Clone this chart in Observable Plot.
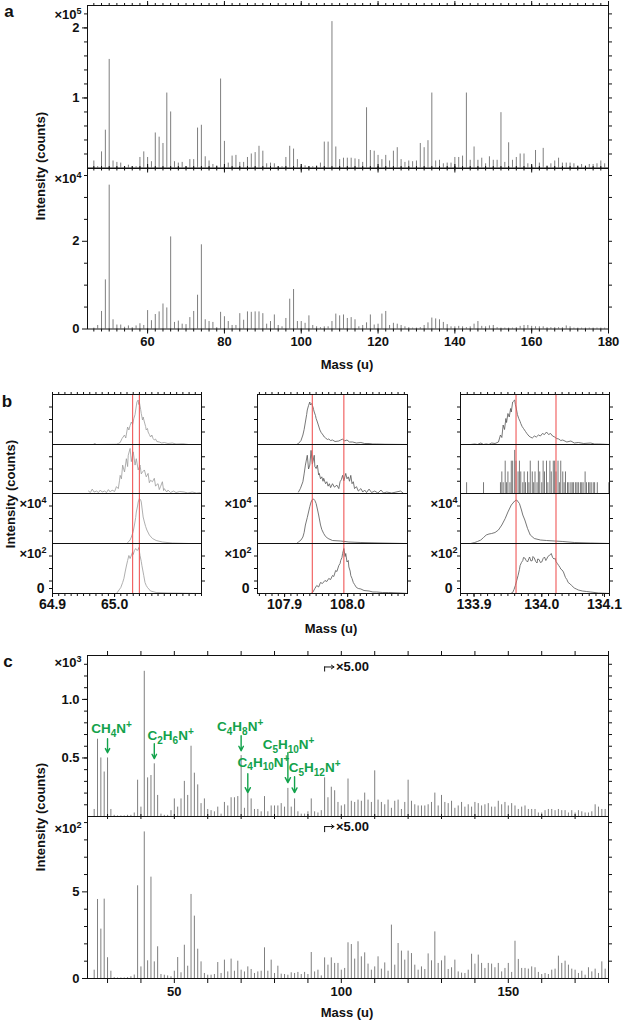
<!DOCTYPE html>
<html><head><meta charset="utf-8">
<script src="https://cdn.jsdelivr.net/npm/d3@7"></script>
<script src="https://cdn.jsdelivr.net/npm/@observablehq/plot@0.6"></script>
<style>
body{margin:0;background:#fff;}
#root{position:relative;width:625px;height:1021px;overflow:hidden;font-family:"Liberation Sans",Arial,Helvetica,sans-serif;font-weight:bold;color:#111;}
.t{position:absolute;white-space:nowrap;font-size:13px;line-height:1;}
.t sup{font-size:9px;vertical-align:5px;line-height:0;}
.c{transform:translate(-50%,-50%);}
.r{transform:translate(-50%,-50%) rotate(-90deg);}
.p{font-size:17px;}
</style></head><body><div id="root"></div>
<script>
// ---------------- DATA ----------------
// Panel a: unit masses 46..179 u
const massA = d3.range(46, 180);
const aTop = [ // ×10^5 counts
 0.1,0.02,0.23,0.54,1.55,0.1,0.08,0.07,0.02,0.04,
 0.02,0.02,0.15,0.23,0.15,0.09,0.5,0.44,0.35,1.07,
 0.8,0.09,0.07,0.08,0.02,0.12,0.12,0.57,0.61,0.16,
 0.1,0.05,0.03,1.27,0.38,0.07,0.17,0.18,0.08,0.08,
 0.15,0.2,0.22,0.31,0.24,0.06,0.07,0.06,0.02,0.02,
 0.15,0.31,0.27,0.12,0.05,0.03,0.02,0.02,0.03,0.07,
 0.37,0.37,2.09,0.3,0.12,0.14,0.14,0.14,0.13,0.12,
 0.08,0.86,0.25,0.24,0.18,0.12,0.18,0.1,0.24,0.29,
 0.12,0.08,0.1,0.09,0.1,0.35,0.29,0.39,1.07,0.1,
 0.11,0.06,0.07,0.07,0.15,0.15,0.17,1.07,0.11,0.3,
 0.11,0.14,0.06,0.16,0.11,0.11,0.79,0.08,0.36,0.11,
 0.15,0.2,0.2,0.06,0.04,0.25,0.07,0.28,0.03,0.06,
 0.1,0.14,0.07,0.07,0.07,0.06,0.03,0.05,0.03,0.05,
 0.05,0.06,0.1,0.06];
const aBot = [ // ×10^4 counts
 0.02,0.08,0.4,1.12,3.28,0.21,0.09,0.09,0.04,0.07,
 0.03,0.07,0.12,0.08,0.42,0.19,0.33,0.39,0.57,0.48,
 2.1,0.15,0.18,0.11,0.1,0.26,0.4,0.77,1.92,0.21,
 0.17,0.15,0.03,0.38,0.28,0.17,0.08,0.08,0.35,0.2,
 0.39,0.38,0.39,0.39,0.35,0.11,0.17,0.32,0.08,0.05,
 0.24,0.68,0.9,0.17,0.17,0.13,0.3,0.08,0.05,0.03,
 0.05,0.05,0.17,0.34,0.3,0.32,0.24,0.26,0.21,0.05,
 0.08,0.14,0.32,0.09,0.11,0.34,0.4,0.08,0.13,0.11,
 0.08,0.05,0.03,0.02,0.02,0.03,0.08,0.14,0.25,0.23,
 0.21,0.15,0.1,0.05,0.05,0.06,0.05,0.03,0.05,0.11,
 0.17,0.06,0.05,0.07,0.08,0.03,0.02,0.02,0.02,0.02,
 0.03,0.06,0.08,0.08,0.06,0.05,0.05,0.05,0.03,0.03,
 0.03,0.03,0.03,0.07,0.05,0.02,0.02,0.02,0.02,0.02,
 0.02,0.02,0.02,0.02];

// Panel c: unit masses 26..179 u
const massC = d3.range(26, 180);
const cTop = [ // ×10^3 counts (×5.00 above 95 u)
 0.06,0.66,0.5,0.38,0.5,0.06,0.01,0.005,0.005,0.005,
 0.01,0.01,0.03,0.31,0.08,1.24,0.33,0.35,0.45,0.18,
 0.02,0.01,0.01,0.05,0.15,0.08,0.15,0.3,0.18,0.6,
 0.37,0.27,0.11,0.15,0.06,0.05,0.04,0.08,0.02,0.12,
 0.09,0.16,0.16,0.17,0.52,0.07,0.2,0.15,0.06,0.06,
 0.04,0.17,0.04,0.09,0.09,0.09,0.11,0.08,0.24,0.08,
 0.15,0.04,0.02,0.02,0.04,0.15,0.04,0.03,0.05,0.33,
 0.16,0.25,0.22,0.12,0.09,0.1,0.32,0.13,0.12,0.14,
 0.13,0.2,0.14,0.12,0.39,0.14,0.12,0.1,0.14,0.07,
 0.13,0.14,0.06,0.12,0.31,0.13,0.1,0.09,0.09,0.09,
 0.1,0.12,0.2,0.09,0.18,0.12,0.11,0.13,0.07,0.09,
 0.12,0.08,0.1,0.08,0.12,0.11,0.09,0.1,0.11,0.08,
 0.08,0.13,0.1,0.12,0.09,0.11,0.09,0.06,0.08,0.09,
 0.06,0.06,0.06,0.03,0.03,0.05,0.06,0.06,0.05,0.06,
 0.05,0.05,0.03,0.05,0.03,0.05,0.04,0.03,0.03,0.04,
 0.1,0.08,0.06,0.06];
const cBot = [ // ×10^2 counts (×5.00 above 95 u)
 0.48,4.56,2.85,4.58,1.2,0.42,0.05,0.03,0.03,0.03,
 0.05,0.1,0.2,5.35,0.67,8.46,1.02,5.85,0.96,1.83,
 0.23,0.19,0.15,0.1,0.42,1.21,0.33,1.92,0.71,4.85,
 3.6,1.69,0.96,0.29,0.19,0.19,0.23,0.92,0.29,1.06,
 0.38,1.12,0.42,1.0,0.48,0.38,0.67,0.52,0.29,0.38,
 0.42,1.77,0.42,1.06,0.29,0.71,0.25,0.23,0.19,0.33,
 0.29,0.35,0.23,0.35,0.23,1.5,0.38,0.48,0.15,1.19,
 0.77,1.19,0.87,0.87,0.48,0.58,2.06,1.96,1.12,2.12,
 1.25,1.48,0.83,0.48,0.67,1.25,0.54,0.9,0.42,3.08,
 0.77,2.02,1.58,1.06,1.58,1.44,0.77,0.48,0.67,0.52,
 1.42,1.02,2.69,0.87,1.02,1.29,0.52,0.62,1.06,0.38,
 0.31,0.29,0.48,1.4,0.83,1.35,0.87,0.58,0.87,0.83,
 0.62,0.87,0.38,0.58,0.87,0.35,2.15,1.1,0.58,0.58,
 0.54,0.67,0.62,0.35,0.23,0.29,0.23,0.48,0.54,1.29,
 0.87,1.0,0.77,0.54,0.48,0.29,0.42,0.19,0.62,0.38,
 0.54,0.29,0.96,0.54];

// Panel c annotations
const formulaText = ["CH4N+","C2H6N+","C4H8N+","C5H10N+","C4H10N+","C5H12N+"];
const formulaTextMass = [31.2, 48.9, 69.7, 84.2, 76.7, 92.0];
const formulaTextY = [0.749, 0.689, 0.766, 0.613, 0.46, 0.417];
const formulaPeakMass = [30, 44, 70, 84, 72, 86];
const formulaArrowFrom = [0.664, 0.621, 0.689, 0.545, 0.366, 0.34];
const formulaArrowTo = [0.545, 0.494, 0.562, 0.289, 0.204, 0.204];
const scaleMarkMass = [95, 97.8, 98.4];         // stub, arrow tip, text start
const scaleMarkTopY = [1.234, 1.277];            // stub bottom, arrow level
const scaleMarkBotY = [8.42, 8.77];

// Panel b: high-resolution peak profiles, normalised to each row (4 rows × 3 windows)
const bDomains = [[64.9, 65.14], [107.857, 108.095], [133.88, 134.1]];
const bMajor = [[64.9, 65.0], [107.9, 108.0], [133.9, 134.0]];
const bEdgeLabel = [[], [], [134.1]];
const bRed = [[65.029, 65.040], [107.944, 107.994], [133.962, 134.021]];
const b1r1 = [[64.9,0],[64.945,0],[64.966,0],[64.968,0.03],[64.970,0],[65.003,0.005],[65.006,0.02],[65.009,0.04],[65.012,0.12],[65.016,0.19],[65.018,0.13],[65.021,0.35],[65.023,0.29],[65.025,0.38],[65.027,0.45],[65.029,0.4],[65.031,0.52],[65.033,0.6],[65.034,0.69],[65.036,0.85],[65.038,0.89],[65.039,0.8],[65.040,0.84],[65.042,0.7],[65.043,0.62],[65.045,0.49],[65.046,0.55],[65.048,0.45],[65.050,0.36],[65.051,0.29],[65.053,0.32],[65.054,0.25],[65.056,0.2],[65.058,0.15],[65.060,0.19],[65.062,0.12],[65.064,0.09],[65.066,0.11],[65.068,0.06],[65.072,0.05],[65.076,0.03],[65.080,0.04],[65.086,0.02],[65.093,0.03],[65.099,0.01],[65.110,0.015],[65.119,0],[65.14,0]];
const b1r2 = [[64.958,0.05],[64.961,0.02],[64.964,0.09],[64.967,0.03],[64.971,0.05],[64.974,0.02],[64.977,0.07],[64.980,0.03],[64.984,0.05],[64.987,0.02],[64.990,0.08],[64.993,0.03],[64.996,0.07],[65.000,0.04],[65.003,0.14],[65.006,0.1],[65.008,0.27],[65.009,0.37],[65.011,0.3],[65.013,0.58],[65.016,0.44],[65.019,0.71],[65.021,0.55],[65.022,0.78],[65.025,0.92],[65.027,0.65],[65.030,0.85],[65.033,0.58],[65.035,0.71],[65.038,0.48],[65.041,0.58],[65.043,0.4],[65.045,0.44],[65.048,0.48],[65.051,0.34],[65.054,0.41],[65.056,0.22],[65.058,0.27],[65.061,0.24],[65.064,0.31],[65.066,0.15],[65.067,0.17],[65.070,0.2],[65.072,0.08],[65.074,0.14],[65.077,0.24],[65.079,0.06],[65.080,0.1],[65.084,0.03],[65.086,0.07],[65.090,0.02],[65.095,0.05],[65.099,0.02],[65.105,0.04],[65.112,0.03],[65.118,0.01],[65.125,0.03],[65.132,0.01],[65.138,0.02]];
const b1r3 = [[64.9,0],[65.020,0],[65.022,0.03],[65.025,0.07],[65.027,0.13],[65.030,0.24],[65.032,0.37],[65.034,0.52],[65.035,0.63],[65.037,0.75],[65.038,0.83],[65.040,0.9],[65.042,0.87],[65.043,0.83],[65.045,0.63],[65.046,0.53],[65.048,0.43],[65.050,0.34],[65.052,0.27],[65.056,0.17],[65.061,0.1],[65.067,0.06],[65.077,0.03],[65.093,0.01],[65.119,0],[65.14,0]];
const b1r4 = [[64.9,0],[65.003,0],[65.006,0.05],[65.010,0.12],[65.013,0.22],[65.015,0.3],[65.017,0.43],[65.019,0.55],[65.021,0.66],[65.023,0.76],[65.025,0.7],[65.026,0.73],[65.029,0.83],[65.030,0.78],[65.032,0.86],[65.034,0.9],[65.036,0.86],[65.038,0.88],[65.039,0.92],[65.041,0.76],[65.043,0.64],[65.044,0.56],[65.047,0.36],[65.049,0.22],[65.051,0.16],[65.053,0.12],[65.058,0.05],[65.067,0.02],[65.086,0.01],[65.14,0]];
const b2r1 = [[107.857,0],[107.919,0],[107.922,0.02],[107.926,0.08],[107.929,0.19],[107.931,0.3],[107.933,0.45],[107.935,0.6],[107.936,0.69],[107.938,0.78],[107.940,0.85],[107.941,0.79],[107.943,0.82],[107.945,0.75],[107.946,0.7],[107.947,0.65],[107.949,0.58],[107.950,0.52],[107.952,0.45],[107.954,0.37],[107.956,0.29],[107.958,0.24],[107.961,0.19],[107.963,0.15],[107.965,0.13],[107.968,0.1],[107.970,0.11],[107.973,0.08],[107.976,0.09],[107.980,0.06],[107.986,0.07],[107.989,0.09],[107.992,0.11],[107.995,0.07],[107.999,0.09],[108.003,0.05],[108.008,0.05],[108.014,0.03],[108.021,0.04],[108.027,0.02],[108.034,0.02],[108.040,0.01],[108.046,0.01],[108.059,0.005],[108.095,0]];
const b2r2 = [[107.922,0.03],[107.925,0.1],[107.929,0.24],[107.931,0.4],[107.933,0.58],[107.936,0.78],[107.938,0.5],[107.940,0.58],[107.942,0.88],[107.944,0.6],[107.945,0.65],[107.947,0.78],[107.948,0.55],[107.950,0.51],[107.952,0.58],[107.954,0.38],[107.955,0.41],[107.957,0.3],[107.959,0.34],[107.961,0.25],[107.962,0.31],[107.965,0.2],[107.967,0.24],[107.969,0.15],[107.971,0.2],[107.973,0.12],[107.976,0.2],[107.979,0.13],[107.983,0.17],[107.986,0.1],[107.988,0.24],[107.990,0.28],[107.992,0.37],[107.994,0.26],[107.997,0.41],[107.999,0.3],[108.001,0.34],[108.003,0.25],[108.005,0.37],[108.007,0.2],[108.009,0.24],[108.011,0.1],[108.014,0.14],[108.017,0.05],[108.021,0.1],[108.024,0.03],[108.027,0.07],[108.030,0.02],[108.034,0.09],[108.038,0.02],[108.043,0.05],[108.048,0.01],[108.053,0.07],[108.057,0.01],[108.062,0.03],[108.070,0.01],[108.084,0.05],[108.088,0.01]];
const b2r3 = [[107.857,0],[107.919,0],[107.922,0.03],[107.926,0.07],[107.929,0.13],[107.931,0.22],[107.933,0.37],[107.936,0.52],[107.938,0.63],[107.940,0.74],[107.942,0.83],[107.944,0.88],[107.946,0.89],[107.948,0.86],[107.950,0.8],[107.952,0.69],[107.954,0.57],[107.957,0.37],[107.959,0.28],[107.962,0.2],[107.965,0.14],[107.969,0.1],[107.976,0.06],[107.989,0.05],[108.002,0.03],[108.021,0.02],[108.053,0.01],[108.091,0]];
const b2r4 = [[107.857,0],[107.942,0],[107.945,0.03],[107.948,0.1],[107.951,0.16],[107.954,0.13],[107.957,0.22],[107.960,0.2],[107.964,0.26],[107.967,0.24],[107.970,0.3],[107.973,0.28],[107.976,0.36],[107.978,0.34],[107.981,0.46],[107.983,0.44],[107.986,0.56],[107.988,0.6],[107.989,0.66],[107.991,0.72],[107.992,0.8],[107.994,0.9],[107.996,0.74],[107.997,0.8],[107.999,0.63],[108.001,0.66],[108.002,0.53],[108.004,0.45],[108.005,0.36],[108.007,0.3],[108.009,0.22],[108.011,0.18],[108.014,0.12],[108.017,0.1],[108.021,0.09],[108.026,0.06],[108.034,0.05],[108.040,0.03],[108.046,0.03],[108.055,0.02],[108.065,0.02],[108.084,0.01],[108.095,0]];
const b3r1 = [[133.88,0],[133.895,0],[133.901,0.01],[133.905,0],[133.910,0.03],[133.914,0],[133.918,0.01],[133.922,0],[133.926,0.03],[133.931,0.02],[133.936,0.05],[133.939,0.19],[133.941,0.14],[133.943,0.39],[133.945,0.3],[133.947,0.52],[133.948,0.44],[133.950,0.62],[133.952,0.55],[133.954,0.72],[133.955,0.65],[133.957,0.85],[133.960,0.89],[133.961,0.8],[133.962,0.75],[133.964,0.6],[133.966,0.52],[133.968,0.46],[133.969,0.42],[133.971,0.36],[133.973,0.32],[133.976,0.26],[133.978,0.22],[133.981,0.17],[133.983,0.15],[133.986,0.13],[133.989,0.17],[133.992,0.15],[133.995,0.19],[133.998,0.17],[134.001,0.22],[134.004,0.2],[134.007,0.25],[134.010,0.2],[134.013,0.22],[134.016,0.17],[134.019,0.15],[134.022,0.12],[134.025,0.11],[134.028,0.08],[134.031,0.09],[134.037,0.05],[134.043,0.07],[134.048,0.03],[134.054,0.04],[134.062,0.02],[134.072,0.03],[134.078,0.01],[134.084,0.01],[134.1,0]];
const b3r2 = [[133.889,1],[133.914,1],[133.939,1],[133.941,2],[133.943,1],[133.946,3],[133.948,1],[133.950,2],[133.953,1],[133.955,3],[133.957,3],[133.960,4],[133.962,3],[133.965,2],[133.967,3],[133.969,2],[133.972,1],[133.974,2],[133.976,1],[133.979,2],[133.981,1],[133.983,3],[133.986,2],[133.988,1],[133.990,2],[133.993,1],[133.995,3],[133.997,2],[134.000,1],[134.002,3],[134.004,2],[134.007,3],[134.009,1],[134.012,3],[134.014,2],[134.017,3],[134.019,3],[134.021,2],[134.024,3],[134.026,1],[134.028,3],[134.031,2],[134.033,1],[134.035,2],[134.038,1],[134.040,1],[134.043,1],[134.045,1],[134.047,1],[134.050,1],[134.052,1],[134.054,1],[134.057,1],[134.059,1],[134.061,1],[134.064,2],[134.066,1],[134.069,1],[134.071,1],[134.073,1],[134.076,1],[134.078,1],[134.082,1],[134.099,1]];
const b3r3 = [[133.88,0],[133.895,0],[133.901,0.02],[133.905,0.04],[133.910,0.07],[133.914,0.12],[133.918,0.17],[133.922,0.19],[133.926,0.2],[133.931,0.22],[133.936,0.27],[133.941,0.37],[133.946,0.5],[133.950,0.63],[133.955,0.77],[133.960,0.85],[133.963,0.87],[133.967,0.8],[133.970,0.67],[133.972,0.57],[133.975,0.47],[133.979,0.3],[133.983,0.17],[133.989,0.1],[133.998,0.07],[134.007,0.06],[134.019,0.05],[134.031,0.04],[134.048,0.02],[134.072,0.01],[134.1,0]];
const b3r4 = [[133.88,0],[133.954,0],[133.957,0.02],[133.959,0.08],[133.961,0.16],[133.963,0.26],[133.965,0.36],[133.967,0.48],[133.968,0.56],[133.970,0.62],[133.972,0.66],[133.973,0.72],[133.975,0.71],[133.977,0.66],[133.979,0.63],[133.981,0.7],[133.982,0.73],[133.984,0.65],[133.986,0.66],[133.987,0.74],[133.989,0.71],[133.991,0.64],[133.993,0.61],[133.994,0.69],[133.996,0.68],[133.998,0.62],[134.000,0.63],[134.002,0.7],[134.004,0.73],[134.006,0.66],[134.007,0.68],[134.009,0.74],[134.011,0.76],[134.013,0.78],[134.014,0.8],[134.016,0.72],[134.018,0.69],[134.020,0.7],[134.021,0.64],[134.023,0.6],[134.025,0.56],[134.027,0.52],[134.028,0.49],[134.030,0.47],[134.032,0.43],[134.035,0.32],[134.037,0.28],[134.039,0.22],[134.042,0.19],[134.044,0.16],[134.048,0.11],[134.051,0.09],[134.054,0.07],[134.060,0.05],[134.066,0.04],[134.072,0.03],[134.084,0.01],[134.1,0]];
const bTraces = [[b1r1,b1r2,b1r3,b1r4],[b2r1,b2r2,b2r3,b2r4],[b3r1,b3r2,b3r3,b3r4]];
const spikeUnit = 0.22; // one ion count in row 2 of the third window

// ---------------- LAYOUT / RENDER ----------------
const root = document.getElementById("root");
const FONT = '"Liberation Sans", Arial, Helvetica, sans-serif';
const M = 34;
const BAR = "#5e5e5e";
const GREEN = "#12a24b";

function mk(frame, xd, yd, marks, fs = 13) {
  const [x0, y0, x1, y1] = frame;
  const svg = Plot.plot({
    width: x1 - x0 + 2 * M, height: y1 - y0 + 2 * M,
    marginLeft: M, marginRight: M, marginTop: M, marginBottom: M,
    x: {domain: xd, axis: null}, y: {domain: yd, axis: null},
    style: {background: "transparent", overflow: "visible", fontFamily: FONT, fontSize: fs + "px", fontWeight: "bold", color: "#111"},
    marks: [...marks, Plot.frame({stroke: "#111", strokeWidth: 1})]
  });
  svg.style.position = "absolute";
  svg.style.left = (x0 - M) + "px";
  svg.style.top = (y0 - M) + "px";
  root.appendChild(svg);
  return svg;
}
const blank = () => "";
function ax(ticks, anchor, size, fmt, pad = 3, extra = {}) {
  const f = (anchor === "top" || anchor === "bottom") ? Plot.axisX : Plot.axisY;
  return f(ticks, {anchor, tickSize: size, tickPadding: pad, tickFormat: fmt || blank, label: null, strokeWidth: 1, ...extra});
}
function txt(html, x, y, cls = "c") {
  const d = document.createElement("div");
  d.className = "t " + cls;
  d.style.left = x + "px"; d.style.top = y + "px";
  d.innerHTML = html;
  root.appendChild(d);
}

// ---- Panel a ----
const aX = [44.35, 180];
const aMaj = [60, 80, 100, 120, 140, 160, 180];
const aMin = d3.range(46, 180, 2);
const aTopData = massA.map((m, i) => ({m, v: aTop[i]}));
const aBotData = massA.map((m, i) => ({m, v: aBot[i]}));
mk([87, 5, 608, 167.5], aX, [0, 2.32], [
  Plot.ruleX(aTopData, {x: "m", y1: 0, y2: "v", stroke: BAR, strokeWidth: 0.8}),
  ax(aMin, "top", 3), ax(aMaj, "top", 5),
  ax(aMin, "bottom", 3), ax(aMaj, "bottom", 5),
  ax(d3.range(0.2, 2.3, 0.2), "left", 3), ax([1, 2], "left", 5, d => d),
  ax(d3.range(0.2, 2.3, 0.2), "right", 3)
]);
mk([87, 167.5, 608, 328], aX, [0, 3.66], [
  Plot.ruleX(aBotData, {x: "m", y1: 0, y2: "v", stroke: BAR, strokeWidth: 0.8}),
  ax(aMin, "top", 3), ax(aMaj, "top", 5),
  ax(aMin, "bottom", 3), ax(aMaj, "bottom", 5, d => d),
  ax([0.5, 1, 1.5, 2.5, 3, 3.5], "left", 3), ax([0, 2], "left", 5, d => d),
  ax([0.5, 1, 1.5, 2, 2.5, 3, 3.5], "right", 3)
]);
txt("a", 9, 11, "c p");
txt("×10<sup>5</sup>", 68, 14);
txt("×10<sup>4</sup>", 68, 178);
txt("Intensity (counts)", 40, 166, "r");
txt("Mass (u)", 347, 364);

// ---- Panel b ----
const bCols = [[52, 201], [257, 407], [460, 609]];
const bRows = [394, 444, 493, 543, 593];
const bMinor = [d3.range(6490, 6515).map(d => d / 100), d3.range(10786, 10810).map(d => d / 100), d3.range(13388, 13411).map(d => d / 100)];
const bY = [0.25, 0.5, 0.75];
bCols.forEach(([cx0, cx1], ci) => {
  const col = ci === 0 ? "#9a9a9a" : "#555";
  for (let r = 0; r < 4; r++) {
    const marks = [];
    if (ci === 2 && r === 1) {
      marks.push(Plot.ruleX(bTraces[ci][r], {x: d => d[0], y1: 0, y2: d => d[1] * spikeUnit, stroke: col, strokeWidth: 0.8}));
    } else {
      marks.push(Plot.line(bTraces[ci][r], {x: d => d[0], y: d => d[1], stroke: col, strokeWidth: 0.8, clip: true}));
    }
    marks.push(Plot.ruleX(bRed[ci], {stroke: "#f05454", strokeWidth: 1.2, strokeOpacity: 0.9}));
    marks.push(ax(bY, "left", 3), ax(bY, "right", 3));
    if (r === 0) marks.push(ax(bMinor[ci], "top", 3));
    if (r === 3) {
      marks.push(ax(bMinor[ci], "bottom", 3));
      marks.push(ax(bMajor[ci], "bottom", 3, d => d.toFixed(1), 2, {dy: 1}));
      if (bEdgeLabel[ci].length) marks.push(ax(bEdgeLabel[ci], "bottom", 3, d => d.toFixed(1), 2, {dx: -5, dy: 1}));
      marks.push(ax([0], "left", 3, () => "0", 5, {dy: -5}));
    }
    mk([cx0, bRows[r], cx1, bRows[r + 1]], bDomains[ci], [0, 1], marks, 14);
  }
});
txt("b", 7, 401, "c p");
[33, 238, 444].forEach(x => { txt("×10<sup>4</sup>", x, 503); txt("×10<sup>2</sup>", x, 553); });
txt("Intensity (counts)", 10, 494, "r");
txt("Mass (u)", 331, 628);

// ---- Panel c ----
const cX = [24, 180];
const cTicks = d3.range(30, 181, 10);
const cTopData = massC.map((m, i) => ({m, v: cTop[i]}));
const cBotData = massC.map((m, i) => ({m, v: cBot[i]}));
const formulas = formulaText.map((t, i) => ({t, x: formulaTextMass[i], y: formulaTextY[i], m: formulaPeakMass[i], a: formulaArrowFrom[i], b: formulaArrowTo[i]}));
const svgC = mk([87, 655, 608, 816], cX, [0, 1.375], [
  Plot.ruleX(cTopData, {x: "m", y1: 0, y2: "v", stroke: BAR, strokeWidth: 0.8}),
  ax(cTicks, "top", 5), ax(cTicks, "bottom", 3),
  ax(d3.range(0.1, 1.35, 0.1), "left", 3), ax([0.5, 1.0], "left", 5, d => d.toFixed(1)),
  ax(d3.range(0.1, 1.35, 0.1), "right", 3),
  Plot.arrow(formulas, {x1: "m", x2: "m", y1: "a", y2: "b", stroke: GREEN, strokeWidth: 1.4, headLength: 6, headAngle: 55}),
  Plot.text(formulas, {x: "x", y: "y", text: "t", fill: GREEN, fontSize: 13.5, fontWeight: "bold"}),
  Plot.ruleX([scaleMarkMass[0]], {x: d => d, y1: scaleMarkTopY[0], y2: scaleMarkTopY[1], stroke: "#111", strokeWidth: 1}),
  Plot.arrow([0], {x1: scaleMarkMass[0], x2: scaleMarkMass[1], y1: scaleMarkTopY[1], y2: scaleMarkTopY[1], stroke: "#111", strokeWidth: 1, headLength: 5, headAngle: 70}),
  Plot.text(["×5.00"], {x: scaleMarkMass[2], y: scaleMarkTopY[1], text: d => d, textAnchor: "start", fontSize: 13, fontWeight: "bold"})
]);
mk([87, 816, 608, 978], cX, [0, 9.35], [
  Plot.ruleX(cBotData, {x: "m", y1: 0, y2: "v", stroke: BAR, strokeWidth: 0.8}),
  ax(cTicks, "top", 3), ax(cTicks, "bottom", 5, d => d % 50 === 0 ? d : ""),
  ax([1, 2, 3, 4, 6, 7, 8, 9], "left", 3), ax([0, 5], "left", 5, d => d),
  ax(d3.range(1, 10), "right", 3),
  Plot.ruleX([scaleMarkMass[0]], {x: d => d, y1: scaleMarkBotY[0], y2: scaleMarkBotY[1], stroke: "#111", strokeWidth: 1}),
  Plot.arrow([0], {x1: scaleMarkMass[0], x2: scaleMarkMass[1], y1: scaleMarkBotY[1], y2: scaleMarkBotY[1], stroke: "#111", strokeWidth: 1, headLength: 5, headAngle: 70}),
  Plot.text(["×5.00"], {x: scaleMarkMass[2], y: scaleMarkBotY[1], text: d => d, textAnchor: "start", fontSize: 13, fontWeight: "bold"})
]);
txt("c", 8, 661, "c p");
txt("×10<sup>3</sup>", 68, 662);
txt("×10<sup>2</sup>", 68, 828);
txt("Intensity (counts)", 40, 817, "r");
txt("Mass (u)", 347, 1012);

// chemical formulas: subscript digits, superscript charge
svgC.querySelectorAll("text").forEach(t => {
  const s = t.textContent;
  if (!formulaText.includes(s)) return;
  t.textContent = "";
  let shift = 0;
  for (const tok of s.match(/[A-Za-z]+|\d+|\+/g)) {
    const ts = document.createElementNS("http://www.w3.org/2000/svg", "tspan");
    const target = /\d/.test(tok) ? 3.5 : tok === "+" ? -5 : 0;
    ts.setAttribute("dy", target - shift); shift = target;
    if (target !== 0) ts.setAttribute("font-size", "10");
    ts.textContent = tok; t.appendChild(ts);
  }
});
</script></body></html>
